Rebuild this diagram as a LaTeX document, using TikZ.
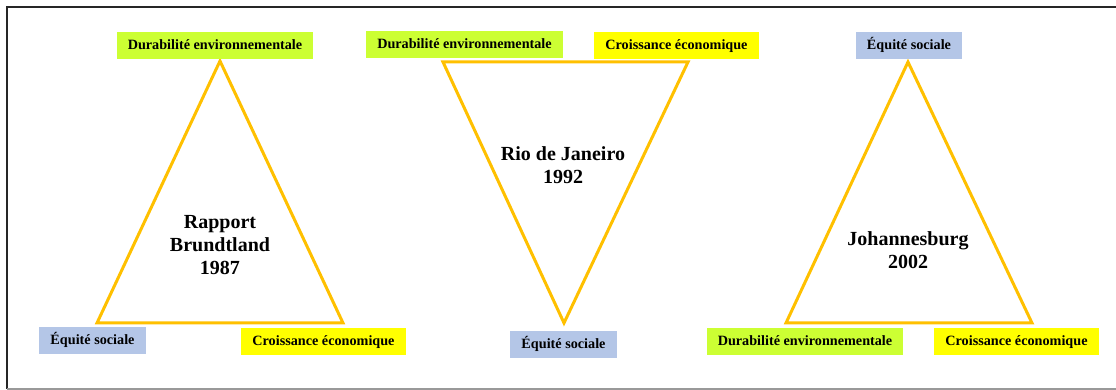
\documentclass[tikz,border=0pt]{standalone}
\usepackage{fontspec}
\setmainfont{Liberation Serif}
\usepackage{tikz}
\usetikzlibrary{positioning}

\definecolor{vert}{RGB}{204,255,51}
\definecolor{jaune}{RGB}{255,255,0}
\definecolor{bleu}{RGB}{180,198,231}
\definecolor{orange}{RGB}{255,192,0}

\begin{document}
\begin{tikzpicture}[x=0.5pt,y=0.5pt,
    pilier/.style={font=\fontsize{7.1}{8}\selectfont\bfseries, inner xsep=5.5pt, inner ysep=0pt,
      text height=5.2pt, text depth=1.6pt, minimum height=13.5pt},
    env/.style={pilier, fill=vert},
    eco/.style={pilier, fill=jaune},
    soc/.style={pilier, fill=bleu},
    titre/.style={font=\fontsize{10}{11.5}\selectfont\bfseries, align=center},
    cote/.style={draw=orange, line width=1.5pt, line join=miter}]
   \useasboundingbox (0,0) rectangle (1116,390);
   \draw[line width=1pt, black!85] (1116,383) -- (7,383) -- (7,1);
   \draw[line width=1pt, black!40] (7,1) -- (1116,1);

   \coordinate (h_1) at (220,329);
   \coordinate (g_1) at (97,67);
   \coordinate (d_1) at (343,67);

   \coordinate (g_2) at (443,328);
   \coordinate (d_2) at (688,328);
   \coordinate (b_2) at (564,67);

   \coordinate (h_3) at (908,328);
   \coordinate (g_3) at (786,67);
   \coordinate (d_3) at (1032,67);

   \draw[cote] (h_1) -- (d_1) -- (g_1) -- cycle;
   \draw[cote] (g_2) -- (d_2) -- (b_2) -- cycle;
   \draw[cote] (h_3) -- (d_3) -- (g_3) -- cycle;

   \node[env] (env_1) at (215,344.5) {Durabilité environnementale};
   \node[soc] (soc_1) at (92.5,49.5) {Équité sociale};
   \node[eco] (eco_1) at (323.5,48) {Croissance économique};
   \node[titre] (brundtland) at (220,145) {Rapport\\Brundtland\\1987};

   \node[env] (env_2) at (464.5,345.5) {Durabilité environnementale};
   \node[eco] (eco_2) at (676.5,344.5) {Croissance économique};
   \node[soc] (soc_2) at (563.5,45.5) {Équité sociale};
   \node[titre] (rio) at (563,225) {Rio de Janeiro\\1992};

   \node[soc] (soc_3) at (909,344) {Équité sociale};
   \node[env] (env_3) at (805,48.5) {Durabilité environnementale};
   \node[eco] (eco_3) at (1016.5,48.5) {Croissance économique};
   \node[titre] (johannesburg) at (908,140) {Johannesburg\\2002};
\end{tikzpicture}
\end{document}
